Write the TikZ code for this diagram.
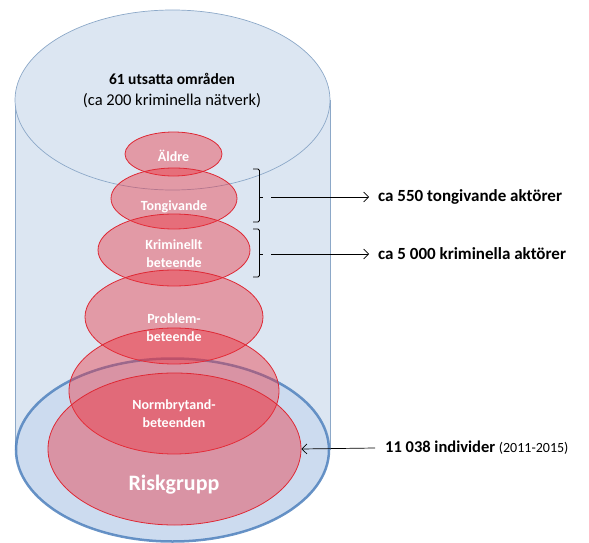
\documentclass[tikz,border=0pt]{standalone}
\usepackage{fontspec}
\setmainfont{Carlito}
\usetikzlibrary{shapes.geometric,arrows.meta}
\definecolor{cylfill}{RGB}{220,230,242}
\definecolor{cylline}{RGB}{140,168,200}
\definecolor{bluefill}{RGB}{170,195,228}
\definecolor{blueline}{RGB}{79,129,189}
\definecolor{redfill}{RGB}{236,50,62}
\definecolor{redline}{RGB}{222,40,52}
\tikzset{
  redell/.style={ellipse, draw=redline, line width=0.8pt, fill=redfill, fill opacity=0.42, draw opacity=1, inner sep=0pt},
  innertxt/.style={text=white, font=\bfseries\fontsize{14}{18}\selectfont, align=center, inner sep=0pt},
  sidetxt/.style={font=\bfseries\fontsize{17}{19}\selectfont, anchor=west, inner sep=0pt},
  arr/.style={-{Straight Barb[length=5pt,width=10pt]}, line width=0.7pt},
  bracket/.style={line width=0.8pt, rounded corners=1.5pt}
}
\begin{document}
\begin{tikzpicture}[x=1pt,y=-1pt]
\useasboundingbox (0,0) rectangle (589,543);
% cylinder body
\fill[cylfill] (15,100) -- (15,450) arc[start angle=180,end angle=360,x radius=157.5,y radius=92] -- (330,100) -- cycle;
\draw[cylline, line width=0.7pt] (15,100) -- (15,450);
\draw[cylline, line width=0.7pt] (330,100) -- (330,450);
\node[ellipse, draw=cylline, line width=0.7pt, fill=cylfill, minimum width=315pt, minimum height=180pt, inner sep=0pt] (top) at (172.5,100) {};
% bottom blue ellipse
\node[ellipse, draw=blueline, line width=2.5pt, fill=bluefill, fill opacity=0.6, draw opacity=0.85, minimum width=313pt, minimum height=183pt, inner sep=0pt] (bottom) at (172.5,450) {};
% red ellipses
\node[redell, minimum width=97pt, minimum height=44pt] (aldre) at (173.5,154) {};
\node[redell, minimum width=126pt, minimum height=61pt] (tong) at (174,198.5) {};
\node[redell, minimum width=152pt, minimum height=72pt] (krim) at (174,250) {};
\node[redell, minimum width=178pt, minimum height=94pt] (prob) at (174,317) {};
\node[redell, minimum width=210pt, minimum height=126pt] (norm) at (174,391) {};
\node[redell, minimum width=253pt, minimum height=152pt] (risk) at (174.5,449) {};
% texts
\node[font=\bfseries\fontsize{15.5}{17}\selectfont, inner sep=0pt] (t1) at (172,79) {61 utsatta områden};
\node[font=\fontsize{16.5}{18}\selectfont, inner sep=0pt] (t2) at (172,101) {(ca 200 kriminella nätverk)};
\node[innertxt] (ta) at (173.5,156) {Äldre};
\node[innertxt] (tt) at (174,207) {Tongivande};
\node[innertxt] (tk) at (174,254) {Kriminellt\\beteende};
\node[innertxt] (tp) at (174,328) {Problem-\\beteende};
\node[innertxt] (tn) at (174,414) {Normbrytand-\\beteenden};
\node[innertxt, font=\bfseries\fontsize{22}{24}\selectfont] (tr) at (174,485) {Riskgrupp};
% brackets
\draw[bracket] (253,169) -- (259.5,169) -- (259.5,222) -- (253,222);
\draw[bracket] (253,229) -- (259.5,229) -- (259.5,277) -- (253,277);
\coordinate (b1) at (263,197);
\coordinate (b2) at (263,254);
\draw[line width=0.8pt] (259.5,197) -- (b1);
\draw[line width=0.8pt] (259.5,254) -- (b2);
\node[sidetxt] (l1) at (378,197) {ca 550 tongivande aktörer};
\node[sidetxt] (l2) at (378,254) {ca 5 000 kriminella aktörer};
\draw[arr] ([xshift=8pt]b1) -- ([xshift=-9pt]l1.west);
\draw[arr] ([xshift=8pt]b2) -- ([xshift=-9pt]l2.west);
\node[sidetxt, font=\bfseries\fontsize{16.5}{18}\selectfont] (l3) at (385,448) {11 038 individer {\mdseries\fontsize{14}{15}\selectfont (2011-2015)}};
\draw[arr, black] ([xshift=-10pt]l3.west) -- (risk.east);
\end{tikzpicture}
\end{document}
